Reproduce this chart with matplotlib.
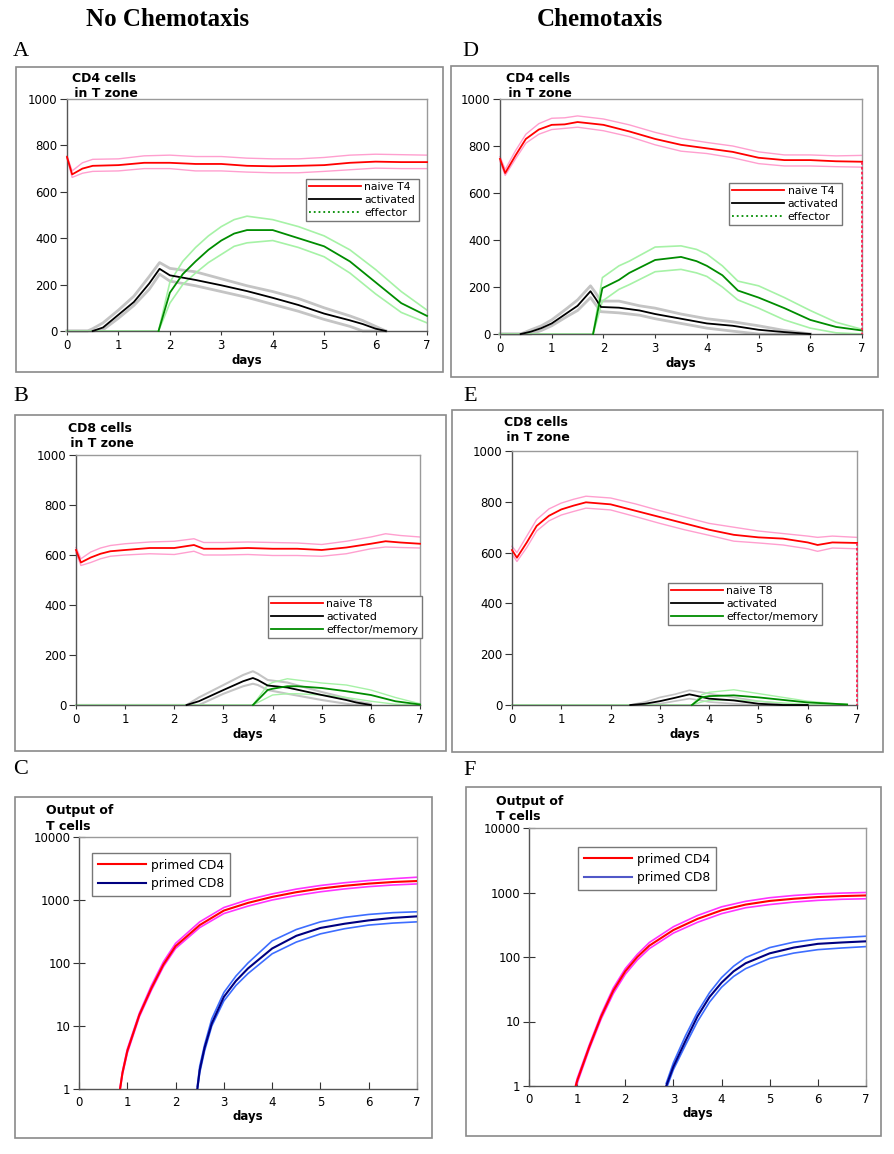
import matplotlib.pyplot as plt
from matplotlib.lines import Line2D
from matplotlib.patches import Rectangle

# ---------------- data ----------------
# A: CD4 cells in T zone, no chemotaxis
a_naive_t = [0, 0.1, 0.3, 0.5, 1, 1.5, 2, 2.5, 3, 3.5, 4, 4.5, 5, 5.5, 6, 6.5, 7]
a_naive = [750, 675, 700, 712, 715, 725, 725, 720, 720, 712, 710, 712, 715, 725, 730, 728, 728]
a_naive_hi = [755, 690, 725, 740, 742, 755, 758, 752, 752, 745, 742, 742, 748, 758, 762, 760, 758]
a_naive_lo = [745, 662, 680, 688, 690, 700, 700, 690, 690, 685, 682, 682, 688, 695, 702, 700, 700]
a_act_t = [0, 0.4, 0.5, 0.7, 1.0, 1.3, 1.6, 1.8, 2.0, 2.5, 3.0, 3.5, 4.0, 4.5, 5.0, 5.5, 5.75, 6.0, 6.2]
a_act = [0, 0, 0, 15, 70, 125, 205, 268, 240, 220, 197, 172, 143, 112, 75, 46, 30, 10, 0]
a_act_hi = [0, 0, 10, 35, 90, 150, 235, 295, 270, 255, 225, 195, 170, 140, 100, 65, 45, 20, 0]
a_act_lo = [0, 0, 0, 5, 55, 110, 180, 245, 215, 195, 170, 145, 115, 85, 50, 20, 0, 0, 0]
a_eff_t = [0, 1.78, 2.0, 2.25, 2.5, 2.75, 3.0, 3.25, 3.5, 4.0, 4.5, 5.0, 5.5, 6.0, 6.5, 7.0]
a_eff = [0, 0, 165, 245, 300, 350, 390, 420, 435, 435, 400, 365, 300, 210, 120, 65]
a_eff_hi = [0, 0, 210, 300, 360, 410, 450, 480, 495, 480, 450, 410, 350, 265, 170, 90]
a_eff_lo = [0, 0, 120, 200, 250, 295, 330, 365, 380, 390, 360, 320, 250, 160, 80, 35]

# D: CD4 cells in T zone, chemotaxis
d_naive_t = [0, 0.1, 0.3, 0.5, 0.75, 1, 1.25, 1.5, 2, 2.5, 3, 3.5, 4, 4.5, 5, 5.5, 6, 6.5, 7]
d_naive = [745, 685, 760, 830, 870, 890, 892, 902, 890, 862, 830, 805, 790, 775, 750, 740, 740, 735, 733]
d_naive_hi = [755, 700, 780, 850, 895, 918, 920, 928, 915, 890, 858, 832, 815, 800, 775, 762, 762, 758, 760]
d_naive_lo = [735, 675, 745, 812, 850, 870, 875, 880, 865, 840, 805, 778, 768, 750, 725, 715, 715, 712, 710]
d_drop_t = [7, 7]
d_drop = [733, 0]
d_act_t = [0, 0.4, 0.6, 0.8, 1.0, 1.3, 1.5, 1.75, 1.85, 1.95, 2.3, 2.7, 3.0, 3.5, 4.0, 4.5, 5.0, 5.5, 6.0]
d_act = [0, 0, 10, 25, 45, 90, 120, 182, 150, 115, 112, 100, 85, 65, 45, 35, 18, 8, 0]
d_act_hi = [0, 0, 18, 35, 60, 110, 145, 205, 175, 140, 140, 120, 110, 85, 65, 52, 35, 15, 0]
d_act_lo = [0, 0, 0, 15, 35, 75, 100, 155, 125, 95, 90, 80, 65, 45, 25, 12, 0, 0, 0]
d_eff_t = [0, 1.8, 1.98, 2.3, 2.5, 3.0, 3.5, 3.8, 4.0, 4.3, 4.6, 5.0, 5.5, 6.0, 6.5, 7.0]
d_eff = [0, 0, 195, 230, 260, 315, 328, 310, 290, 250, 185, 155, 110, 60, 30, 15]
d_eff_hi = [0, 0, 240, 290, 310, 370, 375, 360, 340, 290, 225, 205, 155, 100, 50, 20]
d_eff_lo = [0, 0, 140, 190, 210, 265, 275, 260, 245, 200, 145, 110, 60, 25, 5, 0]

# B: CD8 cells in T zone, no chemotaxis
b_naive_t = [0, 0.1, 0.3, 0.5, 0.7, 1, 1.5, 2, 2.4, 2.6, 3, 3.5, 4, 4.5, 5, 5.5, 6, 6.3, 6.6, 7]
b_naive = [620, 570, 590, 605, 615, 620, 628, 628, 640, 625, 625, 628, 625, 625, 620, 630, 645, 655, 650, 645]
b_naive_hi = [630, 585, 612, 628, 638, 645, 652, 655, 665, 650, 650, 652, 650, 648, 642, 655, 672, 685, 678, 672]
b_naive_lo = [610, 558, 570, 585, 595, 600, 605, 602, 615, 600, 600, 602, 598, 598, 595, 605, 625, 632, 630, 628]
b_act_t = [0, 2.25, 2.5, 3.0, 3.4, 3.6, 3.7, 3.9, 4.3, 5.0, 5.5, 5.7, 6.0]
b_act = [0, 0, 15, 60, 95, 108, 100, 78, 70, 40, 20, 10, 0]
b_act_hi = [0, 0, 30, 80, 120, 135, 125, 100, 90, 52, 28, 15, 5]
b_act_lo = [0, 0, 0, 45, 75, 85, 80, 60, 45, 20, 5, 0, 0]
b_eff_t = [0, 3.6, 3.9, 4.0, 4.3, 4.5, 5.0, 5.5, 6.0, 6.5, 7.0]
b_eff = [0, 0, 60, 65, 75, 75, 68, 55, 40, 15, 2]
b_eff_hi = [0, 0, 80, 90, 105, 100, 88, 80, 60, 30, 5]
b_eff_lo = [0, 0, 30, 40, 45, 45, 40, 30, 15, 3, 0]

# E: CD8 cells in T zone, chemotaxis
e_naive_t = [0, 0.1, 0.3, 0.5, 0.75, 1, 1.25, 1.5, 2, 2.5, 3, 3.5, 4, 4.5, 5, 5.5, 6, 6.2, 6.5, 7]
e_naive = [610, 580, 640, 705, 745, 770, 785, 798, 790, 765, 740, 715, 690, 670, 660, 655, 640, 630, 640, 638]
e_naive_hi = [625, 600, 665, 730, 772, 795, 810, 822, 815, 792, 765, 740, 715, 700, 685, 675, 665, 660, 665, 660]
e_naive_lo = [595, 565, 620, 685, 725, 748, 762, 775, 768, 742, 715, 690, 668, 645, 638, 630, 615, 605, 618, 615]
e_drop_t = [7, 7]
e_drop = [638, 0]
e_act_t = [0, 2.4, 2.7, 3.0, 3.3, 3.6, 3.7, 4.0, 4.5, 5.0, 5.5, 6.0]
e_act = [0, 0, 5, 15, 28, 42, 38, 25, 18, 5, 0, 0]
e_act_hi = [0, 0, 12, 30, 42, 58, 55, 45, 30, 15, 5, 0]
e_act_lo = [0, 0, 0, 5, 15, 25, 22, 12, 5, 0, 0, 0]
e_eff_t = [0, 3.65, 3.85, 4.0, 4.5, 5.0, 5.5, 6.0, 6.5, 6.8]
e_eff = [0, 0, 30, 35, 38, 30, 20, 10, 5, 2]
e_eff_hi = [0, 0, 40, 50, 60, 45, 30, 15, 6, 3]
e_eff_lo = [0, 0, 12, 18, 20, 15, 8, 2, 0, 0]

# C: output of T cells, no chemotaxis (log scale)
c_cd4_t = [0.85, 0.9, 1.0, 1.25, 1.5, 1.75, 2.0, 2.5, 3.0, 3.5, 4.0, 4.5, 5.0, 5.5, 6.0, 6.5, 7.0]
c_cd4 = [1, 1.8, 4, 15, 40, 95, 185, 400, 680, 900, 1120, 1330, 1520, 1680, 1820, 1930, 2000]
c_cd4_hi = [1.05, 1.9, 4.3, 16, 44, 105, 205, 450, 760, 1010, 1250, 1490, 1700, 1880, 2040, 2180, 2300]
c_cd4_lo = [0.95, 1.7, 3.7, 14, 37, 88, 170, 365, 610, 800, 1000, 1180, 1350, 1500, 1630, 1730, 1800]
c_cd8_t = [2.45, 2.5, 2.6, 2.75, 3.0, 3.25, 3.5, 4.0, 4.5, 5.0, 5.5, 6.0, 6.5, 7.0]
c_cd8 = [1, 2, 4.5, 11, 29, 52, 82, 170, 270, 360, 420, 475, 520, 550]
c_cd8_hi = [1.1, 2.3, 5, 13, 34, 62, 100, 225, 340, 450, 530, 590, 630, 650]
c_cd8_lo = [0.95, 1.8, 4, 10, 25, 44, 68, 140, 215, 290, 350, 400, 430, 450]

# F: output of T cells, chemotaxis (log scale)
f_cd4_t = [0.97, 1.0, 1.25, 1.5, 1.75, 2.0, 2.25, 2.5, 3.0, 3.5, 4.0, 4.5, 5.0, 5.5, 6.0, 6.5, 7.0]
f_cd4 = [1, 1.2, 4, 12, 30, 60, 100, 150, 262, 390, 530, 650, 740, 800, 850, 880, 900]
f_cd4_hi = [1.05, 1.3, 4.3, 13, 33, 66, 110, 168, 295, 440, 600, 730, 830, 900, 950, 980, 1000]
f_cd4_lo = [0.95, 1.1, 3.7, 11, 27, 54, 90, 135, 235, 345, 470, 580, 650, 710, 755, 785, 800]
f_cd8_t = [2.85, 3.0, 3.25, 3.5, 3.75, 4.0, 4.25, 4.5, 5.0, 5.5, 6.0, 6.5, 7.0]
f_cd8 = [1, 2, 5, 12, 24, 40, 60, 80, 114, 140, 160, 168, 175]
f_cd8_hi = [1.1, 2.3, 6, 14, 28, 48, 72, 98, 140, 170, 190, 200, 210]
f_cd8_lo = [0.9, 1.8, 4.3, 10, 20, 34, 50, 66, 95, 115, 130, 138, 145]

day_ticks = [0, 1, 2, 3, 4, 5, 6, 7]
lin_ticks = [0, 200, 400, 600, 800, 1000]
log_ticks = [1, 10, 100, 1000, 10000]

# ---------------- figure ----------------
W, H = 894, 1154
fig = plt.figure(figsize=(W / 100, H / 100), dpi=100)
SANS = 'DejaVu Sans'
SERIF = 'Liberation Serif'

RED, PINK = '#ff0000', '#ff9fcf'
BLACK, GREY = '#000000', '#c4c4c4'
GREEN, LGREEN = '#008c00', '#a6f2a6'


def rect(x1, y1, x2, y2):
    return [x1 / W, 1 - y2 / H, (x2 - x1) / W, (y2 - y1) / H]


def frame(x1, y1, x2, y2):
    fig.patches.append(Rectangle((x1 / W, 1 - y2 / H), (x2 - x1) / W, (y2 - y1) / H,
                                 transform=fig.transFigure, fill=False,
                                 edgecolor='#8a8a8a', lw=1.2))


def trim(t, v):
    # drop the leading run of zeros (the mean line starts where the cells appear)
    i = 0
    while i + 1 < len(v) and v[i + 1] == 0:
        i += 1
    return t[i:], v[i:]


def style_axes(ax):
    for s in ['top', 'right']:
        ax.spines[s].set_color('#9a9a9a')
    for s in ['left', 'bottom']:
        ax.spines[s].set_color('#555555')
    for s in ax.spines.values():
        s.set_linewidth(1.0)
    ax.set_xlim(0, 7)
    ax.set_xticks(day_ticks)
    ax.tick_params(labelsize=8.5, colors='#333333', labelcolor='black', width=0.8)
    for lab in ax.get_xticklabels() + ax.get_yticklabels():
        lab.set_family(SANS)
    ax.set_xlabel('days', fontsize=8.5, fontweight='bold', family=SANS, labelpad=1)


def cell_panel(box, title, title_xy, groups, labels, eff_ls, leg_xy, drop=None):
    ax = fig.add_axes(rect(*box))
    for t, m, hi, lo, mc, bc, blw in groups:
        ax.plot(t, hi, color=bc, lw=blw, zorder=2, clip_on=False)
        ax.plot(t, lo, color=bc, lw=blw, zorder=2, clip_on=False)
        tm, vm = trim(t, m)
        ax.plot(tm, vm, color=mc, lw=1.3, zorder=3, clip_on=False)
    if drop is not None:
        ax.plot(drop[0], drop[1], color='#ff1f4f', lw=1.3, ls=(0, (1.5, 1.2)),
                zorder=4, clip_on=False)
    ax.set_ylim(0, 1000)
    ax.set_yticks(lin_ticks)
    ax.tick_params(axis='y', direction='out', length=5, pad=2)
    ax.tick_params(axis='x', direction='out', length=3, pad=3)
    style_axes(ax)
    fig.text(title_xy[0] / W, 1 - title_xy[1] / H, title, ha='center', va='top',
             fontsize=9, fontweight='bold', family=SANS, linespacing=1.2)
    handles = [Line2D([], [], color=RED, lw=1.3),
               Line2D([], [], color=BLACK, lw=1.3),
               Line2D([], [], color=GREEN, lw=1.3, ls=eff_ls)]
    leg = ax.legend(handles, labels, loc='upper left',
                    bbox_to_anchor=(leg_xy[0] / W, 1 - leg_xy[1] / H),
                    bbox_transform=fig.transFigure, fancybox=False, framealpha=1,
                    edgecolor='#777777', borderpad=0.3, labelspacing=0.25,
                    handlelength=4.8, handletextpad=0.3, borderaxespad=0,
                    prop={'family': SANS, 'size': 7.8})
    leg.get_frame().set_linewidth(1.0)
    return ax


def output_panel(box, title_xy, c4, c8, cd8_leg, leg_xy):
    ax = fig.add_axes(rect(*box))
    for t, m, hi, lo, mc, bc in [c4 + (RED, '#ff33ff'), c8 + ('#000080', '#3d6dff')]:
        ax.plot(t, hi, color=bc, lw=1.2, zorder=2)
        ax.plot(t, lo, color=bc, lw=1.2, zorder=2)
        ax.plot(t, m, color=mc, lw=1.5, zorder=3)
    ax.set_yscale('log')
    ax.set_ylim(1, 10000)
    ax.set_yticks(log_ticks)
    ax.set_yticklabels([str(v) for v in log_ticks])
    ax.minorticks_off()
    ax.tick_params(axis='y', direction='inout', length=8, pad=2)
    ax.tick_params(axis='x', direction='in', length=5, pad=5)
    style_axes(ax)
    fig.text(title_xy[0] / W, 1 - title_xy[1] / H, 'Output of\nT cells', ha='left', va='top',
             fontsize=9, fontweight='bold', family=SANS, linespacing=1.25)
    handles = [Line2D([], [], color=RED, lw=1.5), Line2D([], [], color=cd8_leg, lw=1.5)]
    leg = ax.legend(handles, ['primed CD4', 'primed CD8'], loc='upper left',
                    bbox_to_anchor=(leg_xy[0] / W, 1 - leg_xy[1] / H),
                    bbox_transform=fig.transFigure, fancybox=False, framealpha=1,
                    edgecolor='#777777', borderpad=0.45, labelspacing=0.45,
                    handlelength=4.0, handletextpad=0.4, borderaxespad=0,
                    prop={'family': SANS, 'size': 8.8})
    leg.get_frame().set_linewidth(1.0)
    return ax


# frames around each panel
frame(16, 67, 443, 372)
frame(451, 66, 878, 377)
frame(15, 415, 446, 751)
frame(452, 410, 883, 752)
frame(15, 797, 432, 1138)
frame(466, 787, 881, 1136)

cell_panel((67, 99, 427, 331), 'CD4 cells\n in T zone', (104, 72),
           [(a_naive_t, a_naive, a_naive_hi, a_naive_lo, RED, PINK, 1.0),
            (a_act_t, a_act, a_act_hi, a_act_lo, BLACK, GREY, 2.0),
            (a_eff_t, a_eff, a_eff_hi, a_eff_lo, GREEN, LGREEN, 1.2)],
           ['naive T4', 'activated', 'effector'], ':', (306, 179))

cell_panel((500, 99, 862, 334), 'CD4 cells\n in T zone', (538, 72),
           [(d_naive_t, d_naive, d_naive_hi, d_naive_lo, RED, PINK, 1.0),
            (d_act_t, d_act, d_act_hi, d_act_lo, BLACK, GREY, 2.0),
            (d_eff_t, d_eff, d_eff_hi, d_eff_lo, GREEN, LGREEN, 1.2)],
           ['naive T4', 'activated', 'effector'], ':', (729, 183),
           drop=(d_drop_t, d_drop))

cell_panel((76, 455, 420, 705), 'CD8 cells\n in T zone', (100, 422),
           [(b_naive_t, b_naive, b_naive_hi, b_naive_lo, RED, PINK, 1.0),
            (b_act_t, b_act, b_act_hi, b_act_lo, BLACK, GREY, 1.5),
            (b_eff_t, b_eff, b_eff_hi, b_eff_lo, GREEN, LGREEN, 1.0)],
           ['naive T8', 'activated', 'effector/memory'], '-', (268, 596))

cell_panel((512, 451, 857, 705), 'CD8 cells\n in T zone', (536, 416),
           [(e_naive_t, e_naive, e_naive_hi, e_naive_lo, RED, PINK, 1.0),
            (e_act_t, e_act, e_act_hi, e_act_lo, BLACK, GREY, 1.2),
            (e_eff_t, e_eff, e_eff_hi, e_eff_lo, GREEN, LGREEN, 1.0)],
           ['naive T8', 'activated', 'effector/memory'], '-', (668, 583),
           drop=(e_drop_t, e_drop))

output_panel((79, 837, 417, 1089), (46, 804),
             (c_cd4_t, c_cd4, c_cd4_hi, c_cd4_lo),
             (c_cd8_t, c_cd8, c_cd8_hi, c_cd8_lo), '#000080', (92, 853))

output_panel((529, 828, 866, 1086), (496, 795),
             (f_cd4_t, f_cd4, f_cd4_hi, f_cd4_lo),
             (f_cd8_t, f_cd8, f_cd8_hi, f_cd8_lo), '#5058c8', (578, 847))

# column headings and panel letters
fig.text(168 / W, 1 - 20 / H, 'No Chemotaxis', ha='center', va='center',
         fontsize=18, fontweight='bold', family=SERIF)
fig.text(600 / W, 1 - 20 / H, 'Chemotaxis', ha='center', va='center',
         fontsize=18, fontweight='bold', family=SERIF)
for letter, x, y in [('A', 13, 42), ('B', 13, 387), ('C', 13, 760),
                     ('D', 462, 42), ('E', 463, 387), ('F', 463, 761)]:
    fig.text(x / W, 1 - y / H, letter, ha='left', va='top', fontsize=16, family=SERIF)

fig.savefig('out.png', dpi=100)
